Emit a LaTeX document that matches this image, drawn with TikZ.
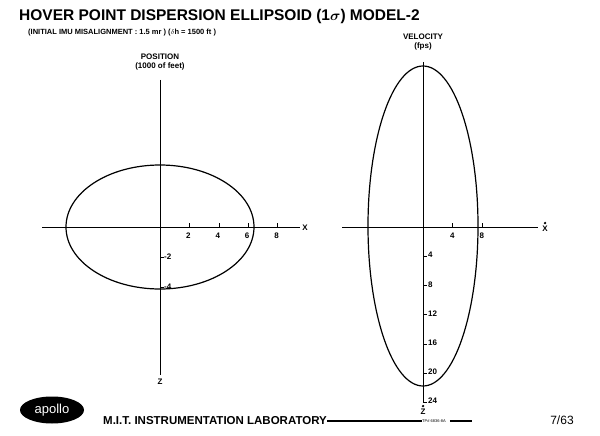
\documentclass[tikz,border=0pt]{standalone}
\usepackage{amsmath}
\usepackage{amssymb}
\usepackage{fontspec}
\setmainfont{Liberation Sans}
\usepackage{tikz}
\usetikzlibrary{shapes.geometric}
\begin{document}
\begin{tikzpicture}[x=1pt,y=-1pt, axis/.style={draw,thick}, curve/.style={draw,line width=1.2pt},
  lab/.style={font=\bfseries\fontsize{8}{9}\selectfont,inner sep=1pt}]
\useasboundingbox[fill=white] (0,0) rectangle (600,436);
% titles
\node[anchor=west,font=\bfseries\fontsize{15.5}{17}\selectfont,inner sep=0] (title) at (19,16) {HOVER POINT DISPERSION ELLIPSOID ($\mathbf{1}\boldsymbol{\sigma}$) MODEL-2};
\node[anchor=west,font=\bfseries\fontsize{7.5}{8}\selectfont,inner sep=0] (sub) at (28,33) {(INITIAL IMU MISALIGNMENT : 1.5 mr ) ($\delta$h = 1500 ft )};
% position plot
\node[lab,align=center] (pos) at (160,62) {POSITION\\(1000 of feet)};
\coordinate (pl) at (42,227); \coordinate (pr) at (300,227);
\coordinate (pt) at (160,80); \coordinate (pb) at (160,375);
\draw[axis] (pl) -- (pr); \draw[axis] (pt) -- (pb);
\node[lab] (px) at (305,228) {X}; \node[lab] (pz) at (160,382) {Z};
\draw[curve] (160,227) ellipse [x radius=94, y radius=62];
\foreach \v in {2,4,6,8}{
  \draw (160+14.7*\v,223) -- (160+14.7*\v,227);
  \node[lab] (px\v) at (160+14.7*\v-1,236) {\v};
}
\foreach \v in {2,4}{
  \draw (160,227+15*\v) -- (164,227+15*\v);
  \node[lab,anchor=west] (pz\v) at (163,227+15*\v) {-\v};
}
% velocity plot
\node[lab,align=center] (vel) at (423,42) {VELOCITY\\(fps)};
\coordinate (vl) at (342,227); \coordinate (vr) at (538,227);
\coordinate (vt) at (423,62); \coordinate (vb) at (423,402);
\draw[axis] (vl) -- (vr); \draw[axis] (vt) -- (vb);
\node[lab] (vx) at (545,229) {X};
\fill (vx.north) ++(0,-2) circle (1.3);
\node[lab] (vz) at (423,412) {Z};
\fill (vz.north) ++(0,-2) circle (1.3);
\draw[curve] (423,226) ellipse [x radius=55, y radius=160];
\foreach \v in {4,8}{
  \draw (423+7.35*\v,223) -- (423+7.35*\v,227);
  \node[lab] (vx\v) at (423+7.35*\v,236) {\v};
}
\foreach \v in {4,8,12,16,20,24}{
  \draw (423,227+7.3*\v) -- (427,227+7.3*\v);
  \node[lab,anchor=west] (vz\v) at (427,226+7.3*\v) {\v};
}
% footer
\node[ellipse,fill=black,text=white,minimum width=64,minimum height=27,inner sep=0,
  font=\fontsize{13}{14}\selectfont] (apollo) at (52,410) {apollo};
\node[anchor=west,font=\bfseries\fontsize{11.5}{13}\selectfont,inner sep=0] (mit) at (103,421) {M.I.T.\ INSTRUMENTATION LABORATORY};
\node[font=\fontsize{4}{5}\selectfont,inner sep=0] (tp) at (434,421) {TP\# 6836-8A};
\draw[line width=1.5pt] (mit.east) -- (tp.west);
\draw[line width=1.5pt] (tp.east) ++(4,0) coordinate (tl) -- ++(22,0) coordinate (tr);
\node[font=\fontsize{12}{13}\selectfont,inner sep=0] (date) at (562,420) {7/63};
\end{tikzpicture}
\end{document}
